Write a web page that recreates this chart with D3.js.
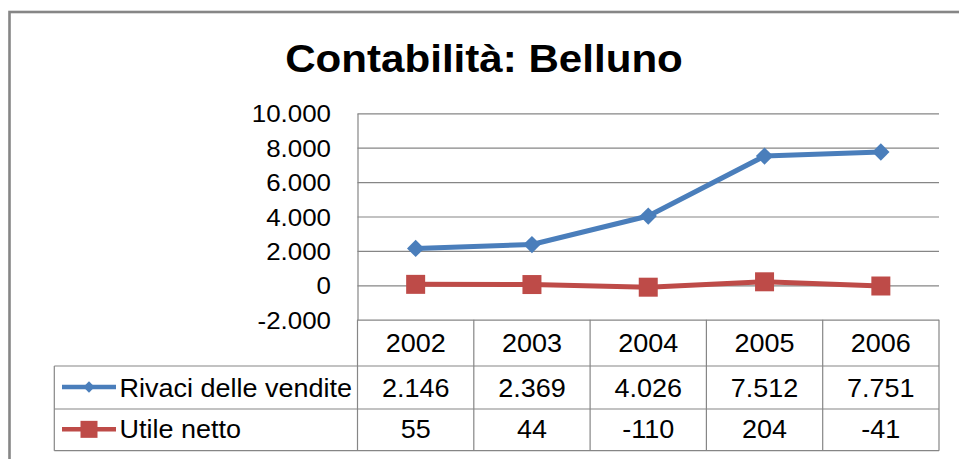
<!DOCTYPE html>
<html>
<head>
<meta charset="utf-8">
<script src="https://cdn.jsdelivr.net/npm/d3@7"></script>
<style>
  body { margin: 0; background: #fff; }
  svg { display: block; font-family: "Liberation Sans", Arial, sans-serif; }
</style>
</head>
<body>
<div id="chart"></div>
<script>
// data
const years = ["2002", "2003", "2004", "2005", "2006"];
const rivaci = [2146, 2369, 4026, 7512, 7751];
const utile = [55, 44, -110, 204, -41];
const seriesNames = ["Rivaci delle vendite", "Utile netto"];
const yTicks = [-2000, 0, 2000, 4000, 6000, 8000, 10000];
const chartTitle = "Contabilità: Belluno";

const W = 959, H = 459;
const SX = 1.08; // the source picture is stretched a bit horizontally
const grey = "#868686";
const colors = ["#4A7EBB", "#BE4B48"];

const it = d3.formatLocale({decimal: ",", thousands: ".", grouping: [3], currency: ["€", ""], minus: "-"});
const fmt = it.format(",d");

let plot = {left: 357.5, right: 939, top: 113.3, bottom: 319.7};
let tableLeft = 54.3;
let rowLines = [319.7, 366, 409, 450.7]; // horizontal lines of the data table
let rowBase = [352, 396.5, 438.3];

let svg = d3.select("#chart").append("svg")
	.attr("width", W)
	.attr("height", H);

// outer frame (runs off the picture on right and bottom)
svg.append("rect")
	.attr("x", 9.5).attr("y", 12)
	.attr("width", 1000).attr("height", 500)
	.attr("fill", "none")
	.attr("stroke", grey)
	.attr("stroke-width", 2.6);

// title
svg.append("text")
	.attr("transform", "translate(484,71.5) scale(" + SX + ",1)")
	.attr("text-anchor", "middle")
	.style("font-size", "39px")
	.style("font-weight", "bold")
	.text(chartTitle);

let x = d3.scaleBand()
	.domain(years)
	.range([plot.left, plot.right]);

let y = d3.scaleLinear()
	.domain([yTicks[0], yTicks[yTicks.length - 1]])
	.range([plot.bottom, plot.top]);

// y axis + gridlines
let yAxis = svg.append("g")
	.attr("transform", "translate(" + plot.left + ",0)")
	.call(d3.axisLeft(y)
		.tickValues(yTicks)
		.tickFormat(fmt)
		.tickSizeInner(-(plot.right - plot.left))
		.tickSizeOuter(0));

yAxis.select(".domain").attr("stroke", grey).attr("stroke-width", 1.2);
yAxis.selectAll(".tick line").attr("stroke", grey).attr("stroke-width", 1.2);
yAxis.selectAll(".tick text")
	.attr("x", 0)
	.attr("dy", "0.36em")
	.attr("transform", "translate(-26.5,0) scale(" + SX + ",1)")
	.attr("fill", "#000")
	.style("font-family", "'Liberation Sans', Arial, sans-serif")
	.style("font-size", "24px");

// data table grid
let tbl = svg.append("g").attr("stroke", grey).attr("stroke-width", 1.2).attr("fill", "none");
rowLines.slice(1).forEach(function(ly) {
	tbl.append("line").attr("x1", tableLeft).attr("x2", plot.right).attr("y1", ly).attr("y2", ly);
});
tbl.append("line").attr("x1", tableLeft).attr("x2", tableLeft).attr("y1", rowLines[1]).attr("y2", rowLines[3]);
let colEdges = years.map(d => x(d)).concat([plot.right]);
colEdges.forEach(function(cx) {
	tbl.append("line").attr("x1", cx).attr("x2", cx).attr("y1", rowLines[0]).attr("y2", rowLines[3]);
});

// header row: years
svg.append("g").selectAll("text")
	.data(years)
	.enter().append("text")
	.attr("transform", d => "translate(" + (x(d) + x.bandwidth() / 2) + "," + rowBase[0] + ") scale(" + SX + ",1)")
	.attr("text-anchor", "middle")
	.style("font-size", "25px")
	.text(d => d);

// value rows
[rivaci, utile].forEach(function(vals, i) {
	svg.append("g").selectAll("text")
		.data(vals)
		.enter().append("text")
		.attr("transform", (d, j) => "translate(" + (x(years[j]) + x.bandwidth() / 2) + "," + rowBase[i + 1] + ") scale(" + SX + ",1)")
		.attr("text-anchor", "middle")
		.style("font-size", "25px")
		.text(d => fmt(d));
});

// legend keys inside the table
const markers = [
	d3.symbol().type(d3.symbolSquare).size(150),
	d3.symbol().type(d3.symbolSquare).size(361)
];
const markerRot = [45, 0];
const legMarkers = [
	d3.symbol().type(d3.symbolSquare).size(64),
	d3.symbol().type(d3.symbolSquare).size(289)
];

seriesNames.forEach(function(name, i) {
	let cy = (rowLines[i + 1] + rowLines[i + 2]) / 2 - 0.5;
	let g = svg.append("g");
	g.append("line")
		.attr("x1", 62).attr("x2", 116)
		.attr("y1", cy).attr("y2", cy)
		.attr("stroke", colors[i])
		.attr("stroke-width", 4.5);
	g.append("path")
		.attr("d", legMarkers[i]())
		.attr("transform", "translate(89," + cy + ") rotate(" + markerRot[i] + ")")
		.attr("fill", colors[i]);
	g.append("text")
		.attr("transform", "translate(119.5," + rowBase[i + 1] + ") scale(" + SX + ",1)")
		.style("font-size", "25px")
		.text(name);
});

// series lines and markers
let line = d3.line()
	.x((d, j) => x(years[j]) + x.bandwidth() / 2)
	.y(d => y(d));

[rivaci, utile].forEach(function(vals, i) {
	svg.append("path")
		.datum(vals)
		.attr("fill", "none")
		.attr("stroke", colors[i])
		.attr("stroke-width", 5)
		.attr("stroke-linejoin", "round")
		.attr("d", line);

	svg.append("g").selectAll("path")
		.data(vals)
		.enter().append("path")
		.attr("d", markers[i]())
		.attr("transform", (d, j) => "translate(" + (x(years[j]) + x.bandwidth() / 2) + "," + y(d) + ") rotate(" + markerRot[i] + ")")
		.attr("fill", colors[i]);
});
</script>
</body>
</html>
